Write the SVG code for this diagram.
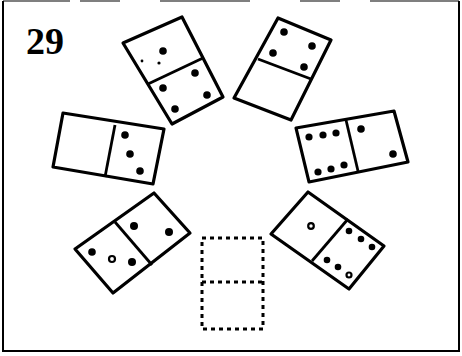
<svg xmlns="http://www.w3.org/2000/svg" width="462" height="356" viewBox="0 0 462 356">
<style>
.d{fill:#fff;stroke:#000;stroke-width:3.2;stroke-linejoin:round}
.l{stroke:#000;stroke-width:2.8;fill:none}
.p{fill:#000}
.h{fill:#fff;stroke:#000;stroke-width:2.2}
.s{fill:#000}
.dash{fill:none;stroke:#000;stroke-width:3;stroke-dasharray:4 4}
</style>
<rect x="0" y="0" width="462" height="356" fill="#fff"/>
<path d="M3,1 V351 H459 V1" fill="none" stroke="#000" stroke-width="2"/>
<path d="M3,1 H70 M80,1 H120 M160,1 H250 M300,1 H340 M370,1 H459" fill="none" stroke="#000" stroke-width="1.2"/>
<text x="26" y="54" font-family="Liberation Serif, serif" font-weight="bold" font-size="38">29</text>

<g id="domino1">
<polygon class="d" points="123,43 182,17 223,97 172,124"/>
<line class="l" x1="148" y1="84" x2="203" y2="58"/>
<circle class="p" cx="163" cy="51" r="3.8"/>
<circle class="s" cx="142" cy="61" r="1.4"/>
<circle class="s" cx="159" cy="63" r="1.6"/>
<circle class="p" cx="195" cy="73" r="3.8"/>
<circle class="p" cx="163" cy="88" r="3.8"/>
<circle class="p" cx="207" cy="95" r="3.8"/>
<circle class="p" cx="175" cy="109" r="3.8"/>
</g>

<g id="domino2">
<polygon class="d" points="278,18 331,40 291,120 234,98"/>
<line class="l" x1="258" y1="59" x2="311" y2="79"/>
<circle class="p" cx="284" cy="32" r="3.8"/>
<circle class="p" cx="312" cy="46" r="3.8"/>
<circle class="p" cx="273" cy="53" r="3.8"/>
<circle class="p" cx="304" cy="67" r="3.8"/>
</g>

<g id="domino3">
<polygon class="d" points="296,128 394,111 408,162 309,182"/>
<line class="l" x1="346" y1="120" x2="358" y2="171"/>
<circle class="p" cx="309" cy="137" r="3.6"/>
<circle class="p" cx="323" cy="135" r="3.6"/>
<circle class="p" cx="336" cy="133" r="3.6"/>
<circle class="p" cx="318" cy="172" r="3.6"/>
<circle class="p" cx="331" cy="169" r="3.6"/>
<circle class="p" cx="344" cy="165" r="3.6"/>
<circle class="p" cx="361" cy="129" r="3.8"/>
<circle class="p" cx="393" cy="154" r="3.8"/>
</g>

<g id="domino4">
<polygon class="d" points="63,113 164,129 153,184 53,167"/>
<line class="l" x1="115" y1="125" x2="105" y2="177"/>
<circle class="p" cx="125" cy="135" r="3.8"/>
<circle class="p" cx="130" cy="154" r="3.8"/>
<circle class="p" cx="140" cy="171" r="3.8"/>
</g>

<g id="domino5">
<polygon class="d" points="75,249 154,193 190,233 113,293"/>
<line class="l" x1="115" y1="222" x2="152" y2="265"/>
<circle class="p" cx="134" cy="226" r="4"/>
<circle class="p" cx="169" cy="232" r="4"/>
<circle class="p" cx="92" cy="252" r="3.8"/>
<circle class="h" cx="112" cy="259" r="3"/>
<circle class="p" cx="132" cy="262" r="4"/>
</g>

<g id="domino6">
<polygon class="d" points="308,192 384,246 349,289 271,234"/>
<line class="l" x1="348" y1="219" x2="312" y2="261"/>
<circle class="h" cx="311" cy="226" r="2.8"/>
<circle class="p" cx="349" cy="231" r="3.3"/>
<circle class="p" cx="361" cy="239" r="3.3"/>
<circle class="p" cx="372" cy="247" r="3.3"/>
<circle class="p" cx="327" cy="260" r="3.3"/>
<circle class="p" cx="338" cy="267" r="3.3"/>
<circle class="h" cx="349" cy="275" r="2.5"/>
</g>

<g id="empty-domino">
<rect class="dash" x="202" y="238" width="61" height="91"/>
<line class="dash" x1="202" y1="282" x2="263" y2="282"/>
</g>
</svg>
